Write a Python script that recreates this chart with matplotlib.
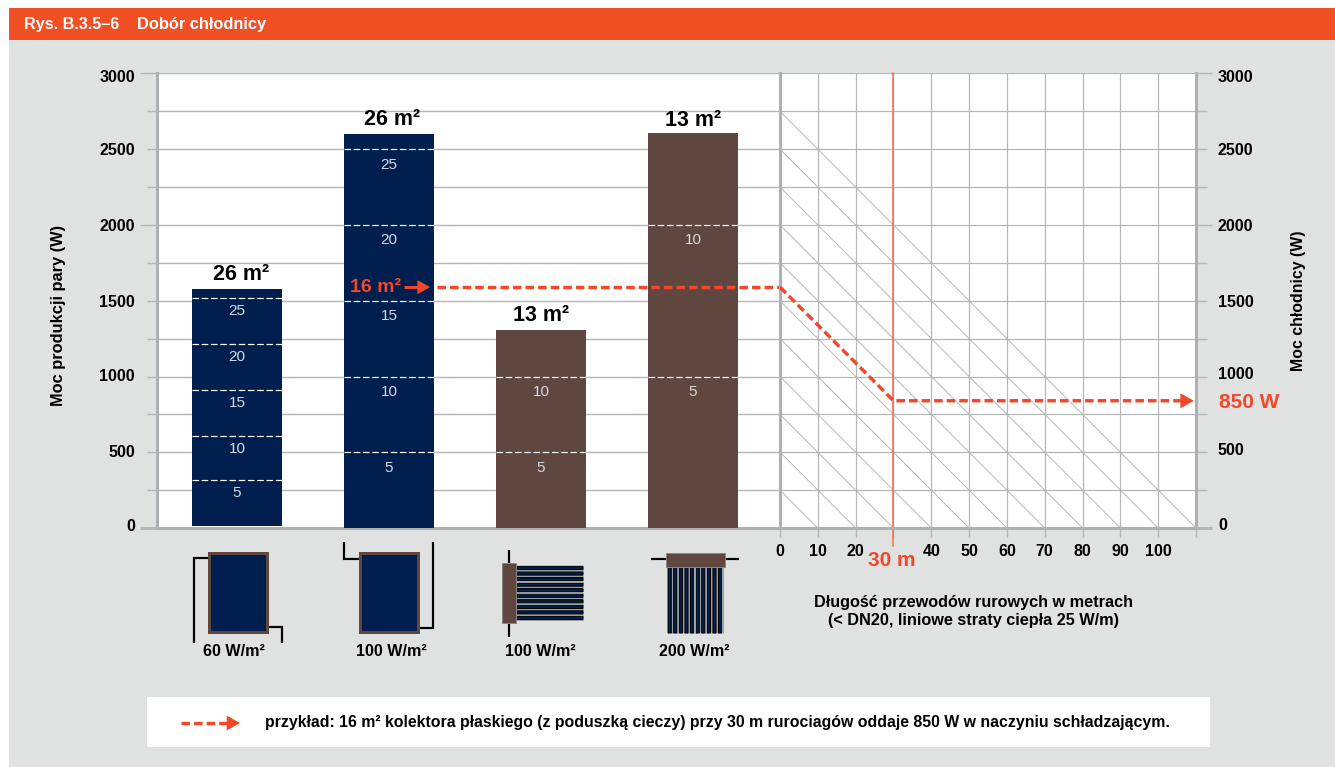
import matplotlib
matplotlib.use("Agg")
import matplotlib.pyplot as plt
from matplotlib.patches import Rectangle
from matplotlib.transforms import ScaledTranslation

plt.rcParams['font.family'] = ['Liberation Sans', 'DejaVu Sans']

W, H = 1335, 767
ORANGE = '#f15025'
RED = '#f2472a'
NAVY = '#001f4e'
BROWN = '#5f463f'
PANEL = '#e0e2e1'
GRID = '#b4b6b8'
AXIS = '#aeb0b3'

# -----------------------------
# Data
# -----------------------------
bar_pos = [0, 1, 2, 3]
bar_bottoms = [12, 0, 0, 0]
bar_heights = [1563, 2600, 1305, 2610]
bar_colors = [NAVY, NAVY, BROWN, BROWN]
bar_titles = ['26 m²', '26 m²', '13 m²', '13 m²']
bar_levels = [
    [315, 610, 910, 1215, 1520],
    [500, 1000, 1500, 2000, 2500],
    [500, 1000],
    [1000, 2000],
]
bar_level_names = [
    ['5', '10', '15', '20', '25'],
    ['5', '10', '15', '20', '25'],
    ['5', '10'],
    ['5', '10'],
]
icon_names = ['60 W/m²', '100 W/m²', '100 W/m²', '200 W/m²']

y_ticks = [0, 500, 1000, 1500, 2000, 2500, 3000]
y_grid = [250, 750, 1250, 1750, 2250, 2750]
length_ticks = [0, 10, 20, 30, 40, 50, 60, 70, 80, 90, 100, 110]
length_names = ['0', '10', '20', '', '40', '50', '60', '70', '80', '90', '100', '']

diag_start = [250, 500, 750, 1000, 1250, 1500, 1750, 2000, 2250, 2500, 2750]
loss_per_m = 25

example_power = 1590
example_length = 30
example_out = 840

# small label shifts seen in the original, pixels
title_dx = [4, 3.5, 0, 0]
title_dy = [4, 4, 4, 2]
level_dy = [-13, -15.5, -15.5, -15.5]
left_label_dy = [3, 1, 1, 0, 0, 0, -3]
right_label_dy = [4, 3, 3, 0, 0, 0, -3]


def box(x0, y0, x1, y1):
    # pixel box to figure fractions, y counted from the top
    return [x0 / W, 1 - y1 / H, (x1 - x0) / W, (y1 - y0) / H]


def px(n):
    return n * 0.72


fig = plt.figure(figsize=(W / 100, H / 100), dpi=100, facecolor='white')

# -----------------------------
# Panel, header, icons (pixel coordinates)
# -----------------------------
bg = fig.add_axes([0, 0, 1, 1], zorder=0)
bg.set_xlim(0, W)
bg.set_ylim(H, 0)
bg.axis('off')
bg.add_patch(Rectangle((9, 40), W - 9, H - 40, fc=PANEL, ec='none'))
bg.add_patch(Rectangle((9, 8), W - 9, 32, fc=ORANGE, ec='none'))
bg.text(24, 25, 'Rys. B.3.5–6', color='white', fontsize=11.6, fontweight='bold', va='center')
bg.text(137, 25, 'Dobór chłodnicy', color='white', fontsize=11.8, fontweight='bold', va='center')

bg.text(58, 315, 'Moc produkcji pary (W)', rotation=90, fontsize=11.8, fontweight='bold',
        ha='center', va='center')
bg.text(1299, 301, 'Moc chłodnicy (W)', rotation=90, fontsize=11.4, fontweight='bold',
        ha='center', va='center')


def pipe(xs, ys):
    bg.plot(xs, ys, color='black', lw=px(2.2), solid_joinstyle='miter', solid_capstyle='butt')


def flat_panel(x0, x1):
    bg.add_patch(Rectangle((x0, 553), x1 - x0, 79, fc=NAVY, ec=BROWN, lw=px(3), zorder=3))


flat_panel(208.5, 266.5)
pipe([208, 194, 194], [558, 558, 643])
pipe([267, 281.5, 281.5], [627, 627, 643])
flat_panel(360, 417.5)
pipe([360, 344, 344], [558.5, 558.5, 542])
pipe([418, 432.5, 432.5], [628, 628, 542])

# third icon, horizontal tubes
pipe([508.5, 508.5], [550, 637])
for i in range(10):
    y = 568 + i * 5.55
    bg.plot([515, 583], [y + 2.4, y + 2.4], color='#9a9c9e', lw=px(1), solid_capstyle='butt')
    bg.add_patch(Rectangle((515, y - 1.6), 68, 3.2, fc=NAVY, ec='black', lw=px(1.1), snap=False))
bg.add_patch(Rectangle((501.5, 563), 14, 60, fc=BROWN, ec='#8a8583', lw=px(1), zorder=3))

# fourth icon, hanging tubes
pipe([651, 739], [559, 559])
for i in range(10):
    x = 669.7 + i * 5.6
    bg.plot([x + 2.4, x + 2.4], [566, 633], color='#9a9c9e', lw=px(1), solid_capstyle='butt')
    bg.add_patch(Rectangle((x - 1.6, 566), 3.2, 67, fc=NAVY, ec='black', lw=px(1.1), snap=False))
bg.add_patch(Rectangle((665.5, 552.5), 59, 14, fc=BROWN, ec='#8a8583', lw=px(1), zorder=3))

for x, name in zip([234, 391, 540, 694], icon_names):
    bg.text(x, 652, name, fontsize=11.6, fontweight='bold', ha='center', va='center')

bg.text(974, 602, 'Długość przewodów rurowych w metrach', fontsize=11.7, fontweight='bold',
        ha='center', va='center')
bg.text(974, 620, '(< DN20, liniowe straty ciepła 25 W/m)', fontsize=11.7, fontweight='bold',
        ha='center', va='center')
bg.text(892, 561, '30 m', color=RED, fontsize=15, fontweight='bold', ha='center', va='center')
bg.text(1219, 402, '850 W', color=RED, fontsize=15, fontweight='bold', ha='left', va='center')

# example strip
bg.add_patch(Rectangle((147, 697), 1063, 50, fc='white', ec='none'))
bg.annotate('', xy=(240, 723), xytext=(228, 723),
            arrowprops=dict(arrowstyle='-|>,head_length=0.85,head_width=0.48', color=RED,
                            lw=px(1), shrinkA=0, shrinkB=0))
bg.plot([181, 228], [723, 723], color=RED, lw=px(3.4), dashes=(2.5, 1.2))
bg.text(265, 723, 'przykład: 16 m² kolektora płaskiego (z poduszką cieczy) przy 30 m '
                  'rurociagów oddaje 850 W w naczyniu schładzającym.',
        fontsize=11.43, fontweight='bold', va='center')

# -----------------------------
# Left chart
# -----------------------------
ax = fig.add_axes(box(157, 73.5, 780, 528), zorder=1)
ax.set_xlim(-0.526, 3.572)
ax.set_ylim(0, 3000)
ax.set_yticks(y_ticks)
ax.set_yticks(y_grid, minor=True)
ax.set_xticks([])
ax.grid(True, axis='y', which='both', color=GRID, lw=px(1.4), zorder=0)
ax.set_axisbelow(True)
ax.tick_params(axis='y', which='major', length=px(10), width=px(1.4), color=GRID, pad=px(12),
               labelsize=11.5)
ax.tick_params(axis='y', which='minor', length=px(10), width=px(1.4), color=GRID)
for label, dy in zip(ax.get_yticklabels(), left_label_dy):
    label.set_fontweight('bold')
    label.set_transform(label.get_transform() + ScaledTranslation(0, dy / 100, fig.dpi_scale_trans))

ax.bar(bar_pos, bar_heights, bottom=bar_bottoms, width=0.592, color=bar_colors, zorder=2.6)
for i, x in enumerate(bar_pos):
    ax.annotate(bar_titles[i], (x, bar_bottoms[i] + bar_heights[i]),
                xytext=(px(title_dx[i]), px(title_dy[i])), textcoords='offset points',
                ha='center', va='bottom', fontsize=15.5, fontweight='bold', zorder=4)
    for level, name in zip(bar_levels[i], bar_level_names[i]):
        ax.hlines(level, x - 0.296, x + 0.296, color='white', lw=px(1.2), linestyles=(0, (5.5, 2.2)),
                  zorder=3)
        ax.annotate(name, (x, level), xytext=(0, px(level_dy[i])), textcoords='offset points',
                    ha='center', va='center', fontsize=11, color='#d5dae3', zorder=3)

# example path, left half
ax.hlines(example_power, 1.316, 3.572, color=RED, lw=px(3.4), linestyles=(0, (2.5, 1.2)), zorder=5)
ax.annotate('', xy=(1.27, example_power), xytext=(1.18, example_power),
            arrowprops=dict(arrowstyle='-|>,head_length=0.8,head_width=0.45', color=RED,
                            lw=px(1), shrinkA=0, shrinkB=0), zorder=5)
ax.hlines(example_power, 1.10, 1.19, color=RED, lw=px(3), zorder=5)
ax.annotate('16 m²', (1.08, example_power), ha='right', va='center', color=RED, fontsize=14,
            fontweight='bold', zorder=5)

# -----------------------------
# Right chart
# -----------------------------
ax2 = fig.add_axes(box(780, 73.5, 1196, 528), zorder=1)
ax2.set_xlim(0, 110)
ax2.set_ylim(0, 3000)
ax2.yaxis.tick_right()
ax2.set_yticks(y_ticks)
ax2.set_yticks(y_grid, minor=True)
ax2.set_xticks(length_ticks, length_names)
ax2.grid(True, axis='both', which='both', color=GRID, lw=px(1.2), zorder=0)
ax2.set_axisbelow(True)
ax2.tick_params(axis='y', which='major', length=px(11), width=px(1.4), color=GRID, pad=px(11),
                labelsize=11.5)
ax2.tick_params(axis='y', which='minor', length=px(11), width=px(1.4), color=GRID)
ax2.tick_params(axis='x', length=px(9), width=px(1.4), color=GRID, pad=px(7), labelsize=11.5)
for label in ax2.get_xticklabels():
    label.set_fontweight('bold')
for label, dy in zip(ax2.get_yticklabels(), right_label_dy):
    label.set_fontweight('bold')
    label.set_transform(label.get_transform() + ScaledTranslation(0, dy / 100, fig.dpi_scale_trans))

for start in diag_start:
    ax2.plot([0, start / loss_per_m], [start, 0], color='#b0b2b4', lw=px(0.9), zorder=1)

ax2.plot([example_length, example_length], [-120, 3000], color='#f4694a', lw=px(1.5), zorder=2,
         clip_on=False)
ax2.plot([0, example_length, 106], [example_power, example_out, example_out], color=RED, lw=px(3.4),
         dashes=(2.5, 1.2), zorder=5)
ax2.annotate('', xy=(109.4, example_out), xytext=(105.5, example_out),
             arrowprops=dict(arrowstyle='-|>,head_length=0.85,head_width=0.48', color=RED,
                             lw=px(1), shrinkA=0, shrinkB=0), zorder=5)

# -----------------------------
# Axis lines and long ticks
# -----------------------------
for a in (ax, ax2):
    a.set_facecolor('white')
    for side in a.spines:
        a.spines[side].set_visible(False)
    a.spines['bottom'].set_visible(True)
    a.spines['bottom'].set_color(AXIS)
    a.spines['bottom'].set_linewidth(px(3))
    for tick, value in zip(a.yaxis.get_major_ticks(), y_ticks):
        if value in (0, 2000, 3000):
            tick.tick1line.set_markersize(px(17))
            tick.tick2line.set_markersize(px(16))
        if value == 0:
            tick.tick1line.set_markeredgewidth(px(3))
            tick.tick2line.set_markeredgewidth(px(3))
            tick.tick1line.set_color(AXIS)
            tick.tick2line.set_color(AXIS)

ax.spines['left'].set_visible(True)
ax.spines['left'].set_color(AXIS)
ax.spines['left'].set_linewidth(px(3))
ax2.spines['left'].set_visible(True)
ax2.spines['left'].set_color(AXIS)
ax2.spines['left'].set_linewidth(px(3))
ax2.spines['right'].set_visible(True)
ax2.spines['right'].set_color(AXIS)
ax2.spines['right'].set_linewidth(px(3))

fig.savefig('out.png', dpi=100)
